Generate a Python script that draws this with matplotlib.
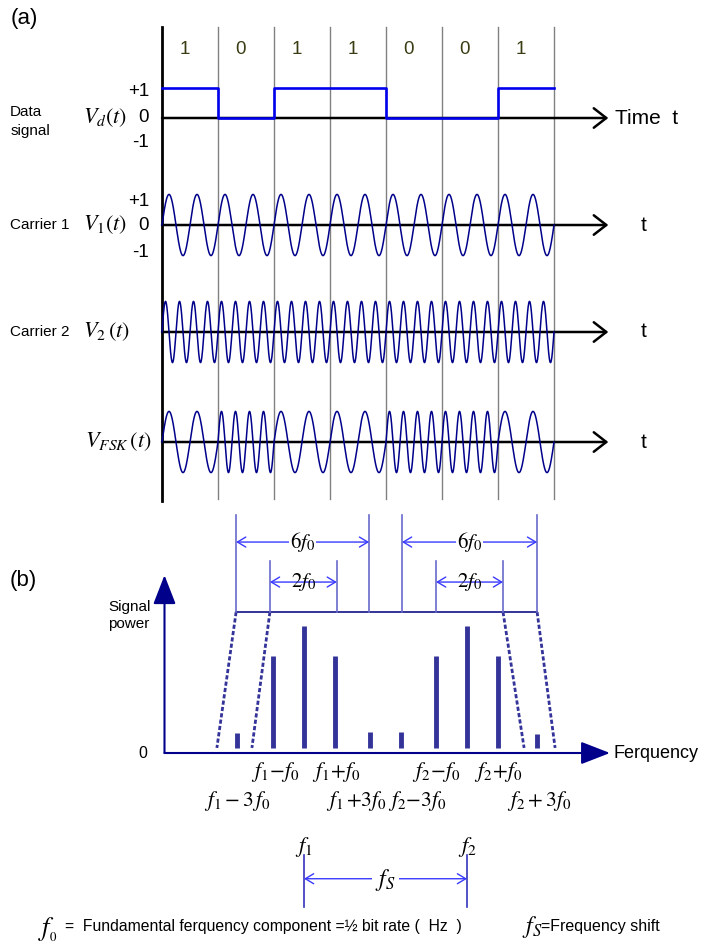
"""
FSK illustration: (a) data signal, carriers and FSK waveform,
(b) power spectrum of the FSK signal.
"""

import numpy as np
import matplotlib
matplotlib.use("Agg")
import matplotlib.pyplot as plt

plt.rcParams["font.family"] = ["Liberation Sans", "DejaVu Sans"]
plt.rcParams["mathtext.fontset"] = "stix"

# ---------------------------------------------------------------------------
# Data
# ---------------------------------------------------------------------------

BITS = [1, 0, 1, 1, 0, 0, 1]
CYCLES_1 = 2          # carrier 1 cycles per bit (mark)
CYCLES_2 = 4          # carrier 2 cycles per bit (space)
AMPL = 1.02

# spectrum, x in units of f0
F1 = 4.5
F2 = 9.76
LINE_FREQS = [2.34, 3.5, 4.5, 5.5, 6.63, 7.63, 8.76, 9.76, 10.76, 12.02]
LINE_POWER = [0.16, 0.76, 1.0, 0.76, 0.165, 0.165, 0.76, 1.0, 0.76, 0.15]

ENV_TOP = 1.11
ENV_TOP_X = [2.31, 3.40, 10.92, 12.02]
ENV_BOT_X = [1.69, 2.82, 11.60, 12.60]

SPAN_6F0 = [(2.31, 6.60), (7.66, 12.02)]
SPAN_2F0 = [(3.40, 5.56), (8.76, 10.92)]

LOWER_LABELS = [r"$f_1\!-\!f_0$", r"$f_1\!+\!f_0$", r"$f_2\!-\!f_0$", r"$f_2\!+\!f_0$"]
LOWER_X = [3.56, 5.53, 8.77, 10.77]
LOWER2_LABELS = [r"$f_1 - 3\,f_0$", r"$f_1\,{+}3f_0$", r"$f_2{-}3f_0$", r"$f_2 + 3f_0$"]
LOWER2_X = [2.34, 6.19, 8.15, 12.08]

NAVY = "#00008b"
SPEC = "#333399"
DIM = "#6a6acc"
ARR = "#3a3aff"

fig = plt.figure(figsize=(7.02, 9.48), dpi=100)

# ---------------------------------------------------------------------------
# (a) time domain
# ---------------------------------------------------------------------------

ax = fig.add_axes([0, 443 / 948, 1, 505 / 948])
ax.set_xlim(-162 / 56, 540 / 56)
ax.set_ylim(-(505 - 118) / 30, 118 / 30)
ax.axis("off")

n_bits = len(BITS)
t = np.linspace(0, n_bits, 4000)
bit_idx = np.minimum((t).astype(int), n_bits - 1)
bits_t = np.array(BITS)[bit_idx]

base = {"data": 0.0, "c1": -3.567, "c2": -7.133, "fsk": -10.8}

# bit boundaries
for k in range(1, n_bits + 1):
    ax.plot([k, k], [3.03, -12.7], color="#808080", lw=1.0, zorder=1)
ax.plot([0, 0], [3.03, -12.75], color="black", lw=2.0, zorder=3)

for i, b in enumerate(BITS):
    ax.text(i + 0.5 - 0.1, 2.27, str(b), ha="center", va="center",
            fontsize=13.5, color="#3b3b14")

arrow_kw = dict(arrowstyle="->,head_length=0.45,head_width=0.35", lw=1.8,
                color="black", shrinkA=0, shrinkB=0, mutation_scale=20)
for key in base:
    ax.annotate("", xy=(7.97, base[key]), xytext=(0, base[key]),
                arrowprops=arrow_kw, zorder=2)

# data signal
xs = np.arange(n_bits + 1)
ax.step(xs, BITS + [BITS[-1]], where="post", color="#0000ee", lw=1.9, zorder=4)

c1 = AMPL * np.sin(2 * np.pi * CYCLES_1 * t)
c2 = AMPL * np.sin(2 * np.pi * CYCLES_2 * t)
fsk = np.where(bits_t == 1, c1, c2)
ax.plot(t, base["c1"] + c1, color=NAVY, lw=1.1, zorder=4)
ax.plot(t, base["c2"] + c2, color=NAVY, lw=1.1, zorder=4)
ax.plot(t, base["fsk"] + fsk, color=NAVY, lw=1.1, zorder=4)

lab_x = -0.23
for txt, dy in [("+1", 0.9), ("0", 0.0), ("-1", -0.83)]:
    ax.text(lab_x, base["data"] + dy, txt, ha="right", va="center", fontsize=13.5)
for txt, dy in [("+1", 0.8), ("0", 0.0), ("-1", -0.9)]:
    ax.text(lab_x, base["c1"] + dy, txt, ha="right", va="center", fontsize=13.5)

ax.text(-2.71, 3.33, "(a)", ha="left", va="center", fontsize=16)
ax.text(-2.71, -0.13, "Data\nsignal", ha="left", va="center", fontsize=11,
        linespacing=1.45)
ax.text(-2.71, base["c1"], "Carrier 1", ha="left", va="center", fontsize=11)
ax.text(-2.71, base["c2"], "Carrier 2", ha="left", va="center", fontsize=11)

ax.text(-1.41, base["data"], r"$V_d(t)$", ha="left", va="center", fontsize=16)
ax.text(-1.41, base["c1"], r"$V_1(t)$", ha="left", va="center", fontsize=16)
ax.text(-1.41, base["c2"], r"$V_2\,(t)$", ha="left", va="center", fontsize=16)
ax.text(-1.38, base["fsk"], r"$V_{FSK}\,(t)$", ha="left", va="center", fontsize=16)

ax.text(8.09, base["data"], "Time  t", ha="left", va="center", fontsize=15)
for key in ["c1", "c2", "fsk"]:
    ax.text(8.54, base[key], "t", ha="left", va="center", fontsize=15)

# ---------------------------------------------------------------------------
# (b) spectrum
# ---------------------------------------------------------------------------

bx = fig.add_axes([0, 0, 1, 443 / 948])
bx.set_xlim(-164.5 / 31, (702 - 164.5) / 31)
bx.set_ylim((753 - 948) / 127, (753 - 505) / 127)
bx.axis("off")

head_kw = dict(arrowstyle="-|>,head_length=0.9,head_width=0.35", lw=1.5,
               color=NAVY, shrinkA=0, shrinkB=0, mutation_scale=20)
bx.annotate("", xy=(0, 1.40), xytext=(0, 0), arrowprops=head_kw)
bx.annotate("", xy=(14.37, 0), xytext=(0, 0), arrowprops=head_kw)

bx.vlines(LINE_FREQS, 0.04, LINE_POWER, color=SPEC, lw=3.5)

# envelope
bx.plot([ENV_TOP_X[0], ENV_TOP_X[-1]], [ENV_TOP, ENV_TOP], color=SPEC, lw=1.4)
for xt, xb in zip(ENV_TOP_X, ENV_BOT_X):
    bx.plot([xt, xb], [ENV_TOP, 0.04], color=SPEC, lw=2.0, dashes=(1.5, 0.8))

# dimension marks
dim_arrow = dict(arrowstyle="<->,head_length=0.5,head_width=0.3", lw=1.0,
                 color=ARR, shrinkA=0, shrinkB=0, mutation_scale=12)
for (a, b) in SPAN_6F0:
    for x in (a, b):
        bx.plot([x, x], [ENV_TOP, 1.874], color=DIM, lw=1.2)
    bx.annotate("", xy=(b, 1.661), xytext=(a, 1.661), arrowprops=dim_arrow)
    bx.text((a + b) / 2, 1.661, r"$6f_0$", ha="center", va="center", fontsize=15,
            bbox=dict(boxstyle="square,pad=0.05", fc="white", ec="none"))
for (a, b) in SPAN_2F0:
    for x in (a, b):
        bx.plot([x, x], [ENV_TOP, 1.51], color=DIM, lw=1.2)
    bx.annotate("", xy=(b, 1.346), xytext=(a, 1.346), arrowprops=dim_arrow)
    bx.text((a + b) / 2, 1.346, r"$2f_0$", ha="center", va="center", fontsize=15)

for lab, x in zip(LOWER_LABELS, LOWER_X):
    bx.text(x, -0.15, lab, ha="center", va="center", fontsize=15.5)
for lab, x in zip(LOWER2_LABELS, LOWER2_X):
    bx.text(x, -0.38, lab, ha="center", va="center", fontsize=15.5)

bx.text(-4.98, 1.36, "(b)", ha="left", va="center", fontsize=16)
bx.text(-1.82, 1.08, "Signal\npower", ha="left", va="center", fontsize=11,
        linespacing=1.3)
bx.text(-0.69, 0.0, "0", ha="center", va="center", fontsize=11.5)
bx.text(14.5, 0.0, "Ferquency", ha="left", va="center", fontsize=13)

# frequency shift
for x, lab in [(F1, r"$f_1$"), (F2, r"$f_2$")]:
    bx.plot([x, x], [-0.80, -1.21], color="#3333bb", lw=1.2)
    bx.text(x, -0.74, lab, ha="center", va="center", fontsize=16)
bx.annotate("", xy=(F2, -0.99), xytext=(F1, -0.99), arrowprops=dim_arrow)
bx.text((F1 + F2) / 2, -1.0, r"$f_S$", ha="center", va="center", fontsize=17,
        bbox=dict(boxstyle="square,pad=0.15", fc="white", ec="none"))

# legend lines at the bottom
bx.text(-4.08, -1.39, r"$f_{_0}$", ha="left", va="center", fontsize=19)
bx.text(-3.2, -1.37, "=  Fundamental ferquency component =\u00bd bit rate (  Hz  )",
        ha="left", va="center", fontsize=11.3)
bx.text(11.53, -1.37, r"$f_S$", ha="left", va="center", fontsize=17)
bx.text(12.13, -1.37, "=Frequency shift", ha="left", va="center", fontsize=11.5)

fig.savefig("out.png", dpi=100, facecolor="white")
